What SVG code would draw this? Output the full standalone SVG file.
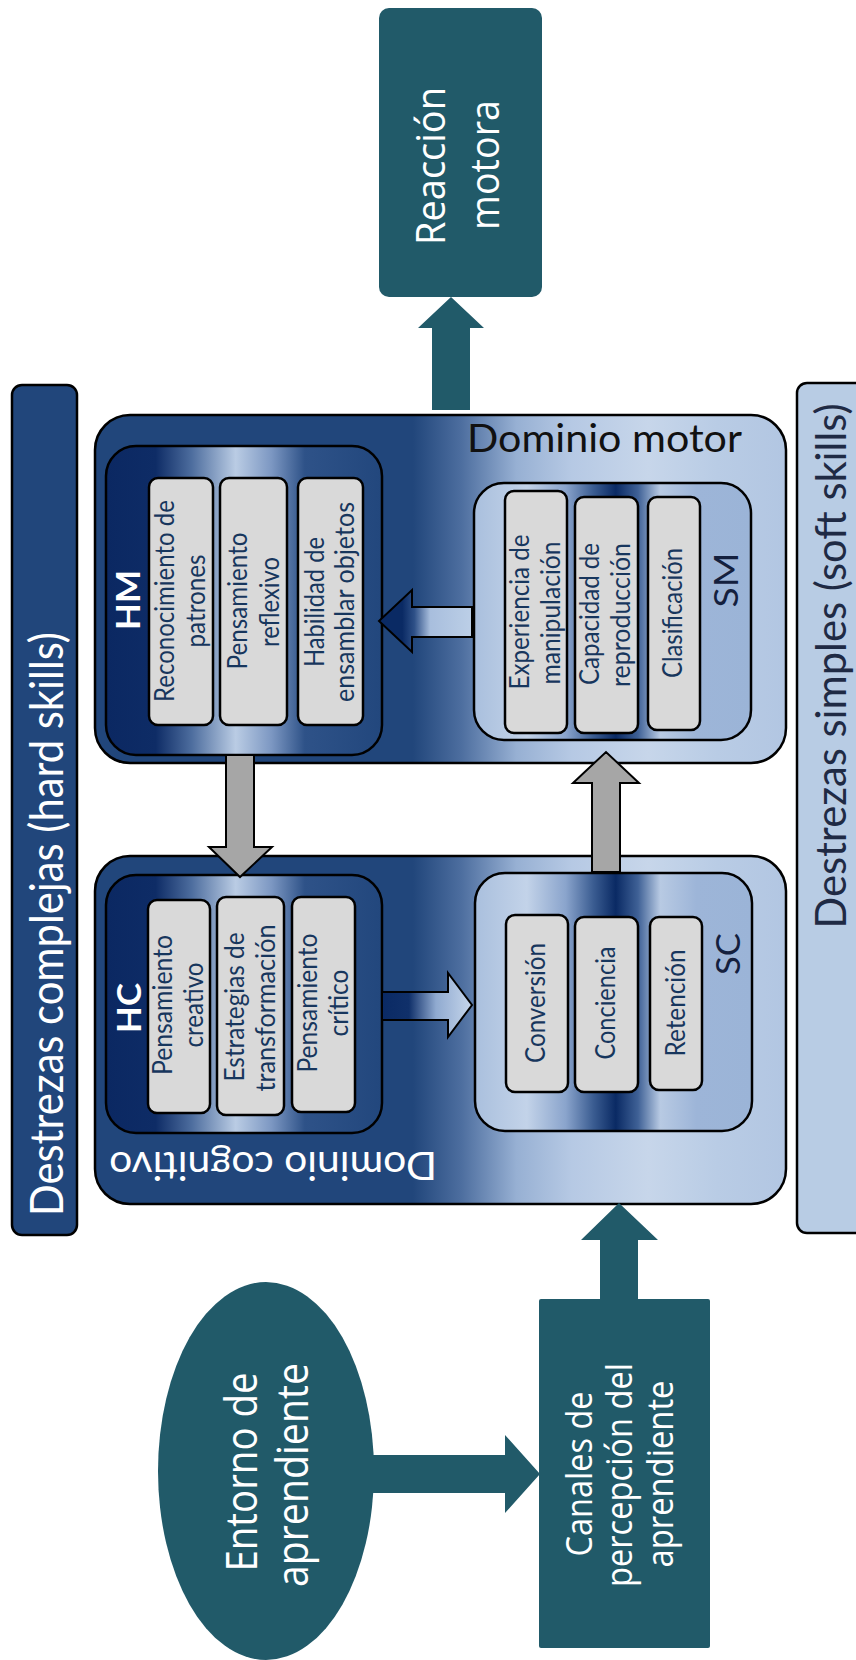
<svg xmlns="http://www.w3.org/2000/svg" width="856" height="1660" viewBox="0 0 856 1660">
<defs>
<style>
.box{stroke:#000;stroke-width:2.5}
.it{fill:#D9D9D9;stroke:#000;stroke-width:2.5}
.lbl{font-family:Lato,"Liberation Sans",sans-serif;font-size:26px;fill:#17365D;text-anchor:middle}
.tag{font-family:Lato,"Liberation Sans",sans-serif;font-size:33px;text-anchor:middle}
.dom{font-family:Lato,"Liberation Sans",sans-serif;font-size:39px;fill:#111}
.big{font-family:"Open Sans","DejaVu Sans",sans-serif;font-weight:500;fill:#fff;text-anchor:middle}
.ban{font-family:Lato,"Liberation Sans",sans-serif;text-anchor:middle}
.teal{fill:#215A69}
.gray{fill:#A6A6A6;stroke:#000;stroke-width:2}
</style>
<linearGradient id="gD" gradientUnits="userSpaceOnUse" x1="95" y1="0" x2="786" y2="0">
<stop offset="0" stop-color="#21467B"/>
<stop offset="0.46" stop-color="#21467B"/>
<stop offset="0.53" stop-color="#4D6E9F"/>
<stop offset="0.61" stop-color="#97B0D3"/>
<stop offset="0.69" stop-color="#B6C9E4"/>
<stop offset="0.8" stop-color="#C7D6EA"/>
<stop offset="0.9" stop-color="#B9CCE5"/>
<stop offset="1" stop-color="#B2C6E2"/>
</linearGradient>
<linearGradient id="gH" gradientUnits="userSpaceOnUse" x1="106" y1="0" x2="382" y2="0">
<stop offset="0" stop-color="#0B2862"/>
<stop offset="0.18" stop-color="#0E2C66"/>
<stop offset="0.31" stop-color="#4D6D9E"/>
<stop offset="0.47" stop-color="#BACCE4"/>
<stop offset="0.6" stop-color="#7C97C2"/>
<stop offset="0.72" stop-color="#2E5288"/>
<stop offset="1" stop-color="#22477D"/>
</linearGradient>
<linearGradient id="gS" gradientUnits="userSpaceOnUse" x1="474" y1="0" x2="752" y2="0">
<stop offset="0" stop-color="#A9BFDD"/>
<stop offset="0.19" stop-color="#C3D3E9"/>
<stop offset="0.33" stop-color="#8AA4CC"/>
<stop offset="0.43" stop-color="#3A5C91"/>
<stop offset="0.51" stop-color="#0A2A64"/>
<stop offset="0.59" stop-color="#3F6196"/>
<stop offset="0.67" stop-color="#B8CAE3"/>
<stop offset="0.8" stop-color="#9DB5D8"/>
<stop offset="1" stop-color="#9BB4D7"/>
</linearGradient>
<linearGradient id="gR" gradientUnits="userSpaceOnUse" x1="382" y1="0" x2="472" y2="0">
<stop offset="0" stop-color="#0A2A64"/>
<stop offset="0.3" stop-color="#10306A"/>
<stop offset="0.6" stop-color="#90AAD0"/>
<stop offset="1" stop-color="#C6D6EB"/>
</linearGradient>
<linearGradient id="gL" gradientUnits="userSpaceOnUse" x1="472" y1="0" x2="379" y2="0">
<stop offset="0" stop-color="#BCCFE7"/>
<stop offset="0.45" stop-color="#A8BEDD"/>
<stop offset="0.62" stop-color="#2E5087"/>
<stop offset="0.75" stop-color="#0A2A64"/>
<stop offset="1" stop-color="#0A2A64"/>
</linearGradient>
</defs>
<rect width="856" height="1660" fill="#fff"/>

<g id="banner-hard">
<rect class="box" x="12" y="385" width="65" height="850" rx="10" fill="#21467B"/>
<text class="ban" font-size="46" fill="#fff" transform="translate(63,924) rotate(-90)" textLength="584" lengthAdjust="spacingAndGlyphs">Destrezas complejas (hard skills)</text>
</g>
<g id="banner-soft">
<rect class="box" x="797" y="383" width="80" height="850" rx="10" fill="#B8CCE4"/>
<text class="ban" font-size="42" fill="#1F2A44" transform="translate(846,666) rotate(-90)" textLength="525" lengthAdjust="spacingAndGlyphs">Destrezas simples (soft skills)</text>
</g>

<g id="reaccion">
<rect class="teal" x="379" y="8" width="163" height="289" rx="10"/>
<text class="big" font-size="41" transform="translate(445,166) rotate(-90)" textLength="158" lengthAdjust="spacingAndGlyphs">Reacción</text>
<text class="big" font-size="41" transform="translate(499,165) rotate(-90)" textLength="130" lengthAdjust="spacingAndGlyphs">motora</text>
</g>

<g id="dominio-motor">
<rect class="box" x="95" y="415" width="691" height="348" rx="35" fill="url(#gD)"/>
<text class="dom" x="467" y="452" textLength="275" lengthAdjust="spacingAndGlyphs">Dominio motor</text>
</g>
<g id="dominio-cognitivo">
<rect class="box" x="95" y="856" width="691" height="348" rx="35" fill="url(#gD)"/>
<text class="dom" style="fill:#fff" transform="translate(437,1152) rotate(180)" textLength="328" lengthAdjust="spacingAndGlyphs">Dominio cognitivo</text>
</g>

<g id="HM">
<rect class="box" x="106" y="446" width="276" height="309" rx="30" fill="url(#gH)"/>
<text class="tag" font-weight="bold" fill="#fff" transform="translate(140,600) rotate(-90)" textLength="60" lengthAdjust="spacingAndGlyphs">HM</text>
<rect class="it" x="149" y="478" width="64" height="247" rx="9"/>
<rect class="it" x="220" y="478" width="67" height="247" rx="9"/>
<rect class="it" x="298" y="478" width="65" height="247" rx="9"/>
<text class="lbl" transform="translate(174,601) rotate(-90)" textLength="202" lengthAdjust="spacingAndGlyphs">Reconocimiento de</text>
<text class="lbl" transform="translate(205,601) rotate(-90)" textLength="93" lengthAdjust="spacingAndGlyphs">patrones</text>
<text class="lbl" transform="translate(247,601) rotate(-90)" textLength="137" lengthAdjust="spacingAndGlyphs">Pensamiento</text>
<text class="lbl" transform="translate(279,602) rotate(-90)" textLength="90" lengthAdjust="spacingAndGlyphs">reflexivo</text>
<text class="lbl" transform="translate(324,602) rotate(-90)" textLength="130" lengthAdjust="spacingAndGlyphs">Habilidad de</text>
<text class="lbl" transform="translate(354,602) rotate(-90)" textLength="200" lengthAdjust="spacingAndGlyphs">ensamblar objetos</text>
</g>

<g id="SM">
<rect class="box" x="474" y="483" width="277" height="257" rx="30" fill="url(#gS)"/>
<text class="tag" fill="#14203E" transform="translate(738,580) rotate(-90)" textLength="55" lengthAdjust="spacingAndGlyphs">SM</text>
<rect class="it" x="505" y="491" width="62" height="242" rx="9"/>
<rect class="it" x="575" y="497" width="63" height="236" rx="9"/>
<rect class="it" x="648" y="497" width="52" height="233" rx="9"/>
<text class="lbl" transform="translate(529,612) rotate(-90)" textLength="155" lengthAdjust="spacingAndGlyphs">Experiencia de</text>
<text class="lbl" transform="translate(560,613) rotate(-90)" textLength="143" lengthAdjust="spacingAndGlyphs">manipulación</text>
<text class="lbl" transform="translate(599,614) rotate(-90)" textLength="142" lengthAdjust="spacingAndGlyphs">Capacidad de</text>
<text class="lbl" transform="translate(630,615) rotate(-90)" textLength="144" lengthAdjust="spacingAndGlyphs">reproducción</text>
<text class="lbl" transform="translate(682,613) rotate(-90)" textLength="130" lengthAdjust="spacingAndGlyphs">Clasificación</text>
</g>

<g id="HC">
<rect class="box" x="106" y="875" width="276" height="258" rx="30" fill="url(#gH)"/>
<text class="tag" font-weight="bold" fill="#fff" transform="translate(141,1008) rotate(-90)" textLength="50" lengthAdjust="spacingAndGlyphs">HC</text>
<rect class="it" x="148" y="900" width="62" height="213" rx="9"/>
<rect class="it" x="217" y="897" width="67" height="218" rx="9"/>
<rect class="it" x="292" y="897" width="63" height="215" rx="9"/>
<text class="lbl" transform="translate(172,1005) rotate(-90)" textLength="140" lengthAdjust="spacingAndGlyphs">Pensamiento</text>
<text class="lbl" transform="translate(203,1005) rotate(-90)" textLength="85" lengthAdjust="spacingAndGlyphs">creativo</text>
<text class="lbl" transform="translate(244,1007) rotate(-90)" textLength="149" lengthAdjust="spacingAndGlyphs">Estrategias de</text>
<text class="lbl" transform="translate(275,1008) rotate(-90)" textLength="167" lengthAdjust="spacingAndGlyphs">transformación</text>
<text class="lbl" transform="translate(317,1003) rotate(-90)" textLength="139" lengthAdjust="spacingAndGlyphs">Pensamiento</text>
<text class="lbl" transform="translate(348,1003) rotate(-90)" textLength="67" lengthAdjust="spacingAndGlyphs">crítico</text>
</g>

<g id="SC">
<rect class="box" x="475" y="873" width="277" height="258" rx="30" fill="url(#gS)"/>
<text class="tag" fill="#14203E" transform="translate(740,954) rotate(-90)" textLength="42" lengthAdjust="spacingAndGlyphs">SC</text>
<rect class="it" x="506" y="915" width="62" height="177" rx="9"/>
<rect class="it" x="575" y="917" width="63" height="175" rx="9"/>
<rect class="it" x="650" y="917" width="52" height="173" rx="9"/>
<text class="lbl" transform="translate(545,1003) rotate(-90)" textLength="120" lengthAdjust="spacingAndGlyphs">Conversión</text>
<text class="lbl" transform="translate(615,1003) rotate(-90)" textLength="113" lengthAdjust="spacingAndGlyphs">Conciencia</text>
<text class="lbl" transform="translate(685,1003) rotate(-90)" textLength="107" lengthAdjust="spacingAndGlyphs">Retención</text>
</g>

<g id="entorno">
<ellipse class="teal" cx="266" cy="1471" rx="108" ry="189"/>
<text class="big" font-size="43" transform="translate(257,1472) rotate(-90)" textLength="199" lengthAdjust="spacingAndGlyphs">Entorno de</text>
<text class="big" font-size="43" transform="translate(308,1475) rotate(-90)" textLength="224" lengthAdjust="spacingAndGlyphs">aprendiente</text>
</g>

<g id="canales">
<rect class="teal" x="539" y="1299" width="171" height="349" rx="2"/>
<text class="big" font-size="37" transform="translate(592,1474) rotate(-90)" textLength="165" lengthAdjust="spacingAndGlyphs">Canales de</text>
<text class="big" font-size="37" transform="translate(632,1475) rotate(-90)" textLength="224" lengthAdjust="spacingAndGlyphs">percepción del</text>
<text class="big" font-size="37" transform="translate(673,1474) rotate(-90)" textLength="187" lengthAdjust="spacingAndGlyphs">aprendiente</text>
</g>

<g id="connectors">
<polygon class="teal" points="432,410 470,410 470,328 484,328 451,297 418,328 432,328"/>
<polygon class="gray" points="226,755 254,755 254,847 272,847 240,877 209,847 226,847"/>
<polygon class="gray" points="592,872 620,872 620,783 639,783 606,752 573,783 592,783"/>
<polygon points="382,992 448,992 448,973 472,1005 448,1037 448,1020 382,1020" fill="url(#gR)" stroke="#000" stroke-width="2"/>
<polygon points="472,607 412,607 412,590 379,621 412,652 412,637 472,637" fill="url(#gL)" stroke="#000" stroke-width="2"/>
<polygon class="teal" points="600,1300 638,1300 638,1240 658,1240 619,1203 581,1240 600,1240"/>
<polygon class="teal" points="360,1455 505,1455 505,1435 540,1474 505,1513 505,1493 360,1493"/>
</g>
</svg>
